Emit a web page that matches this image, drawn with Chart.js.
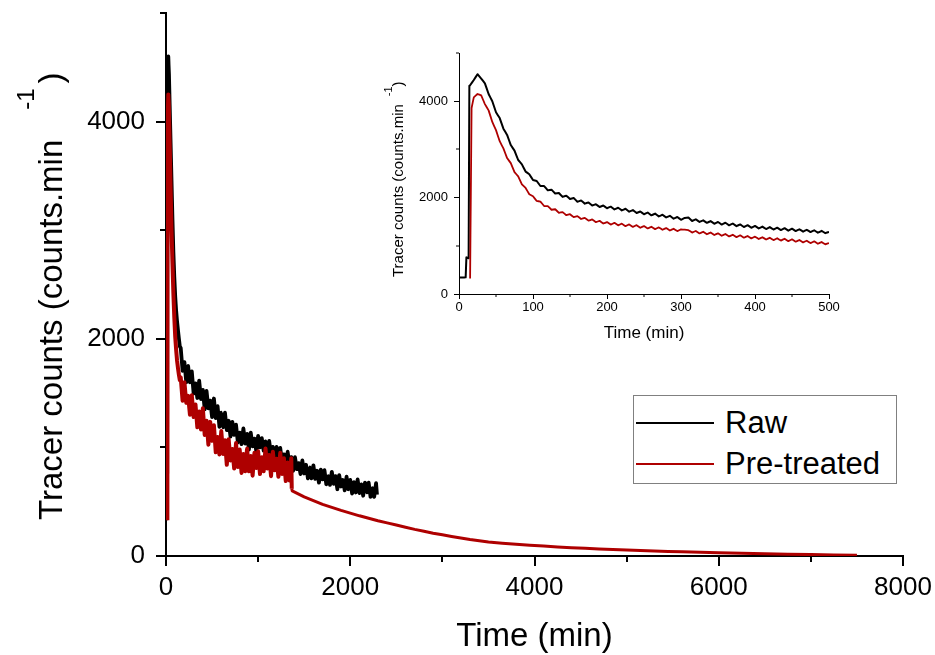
<!DOCTYPE html>
<html>
<head>
<meta charset="utf-8">
<script src="https://cdn.jsdelivr.net/npm/chart.js@4.4.1/dist/chart.umd.min.js"></script>
<style>
  html, body { margin: 0; padding: 0; background: #fff; }
  #wrap { position: relative; width: 935px; height: 655px; overflow: hidden; font-family: 'Liberation Sans', Arial, sans-serif; }
  #mainChart { position: absolute; left: 0; top: 0; }
  #insetChart { position: absolute; left: 380px; top: 40px; }
  #legend { position: absolute; left: 633px; top: 395px; width: 262px; height: 87px; border: 1px solid #808080; background: #fff; }
  .row { position: absolute; left: 0; width: 262px; height: 36px; }
  .swatch { position: absolute; left: 2px; width: 78px; height: 2px; top: 17px; }
  .label { position: absolute; left: 91px; top: 0; font-size: 31px; line-height: 36px; color: #000; white-space: nowrap; }
</style>
</head>
<body>
<div id="wrap">
  <canvas id="mainChart" width="935" height="655"></canvas>
  <canvas id="insetChart" width="470" height="305"></canvas>
  <div id="legend"></div>
</div>
<script>
// series
const seriesNames = ['Raw', 'Pre-treated'];
const seriesColors = ['#000000', '#ae0000'];

// axis text
const xTitle = 'Time (min)';
const yTitleMain = 'Tracer counts (counts.min';
const yTitleSup = '-1';
const yTitleEnd = ')';

// main chart ticks
const mainXTicks = [0, 2000, 4000, 6000, 8000];
const mainXMinor = [1000, 3000, 5000, 7000];
const mainYTicks = [0, 2000, 4000];
const mainYMinor = [1000, 3000, 5000];

// inset ticks
const insetXTicks = [0, 100, 200, 300, 400, 500];
const insetXMinor = [50, 150, 250, 350, 450];
const insetYTicks = [0, 2000, 4000];
const insetYMinor = [1000, 3000, 5000];

// main chart: Raw (min, counts/min)
const mainRawTime = [0, 8, 10, 13, 14, 18, 22, 25, 28, 32, 40, 50, 60, 70, 80, 90, 100, 110, 120, 130, 140, 150,
  160, 180, 200, 220, 240, 260, 280, 300, 320, 340, 360, 380, 400, 420, 440, 460, 480, 500, 520, 540,
  560, 580, 600, 620, 640, 660, 680, 700, 720, 740, 760, 780, 800, 820, 840, 860, 880, 900, 920, 940,
  960, 980, 1000, 1020, 1040, 1060, 1080, 1100, 1120, 1140, 1160, 1180, 1200, 1220, 1240, 1260, 1280, 1300, 1320, 1340,
  1360, 1380, 1400, 1420, 1440, 1460, 1480, 1500, 1520, 1540, 1560, 1580, 1600, 1620, 1640, 1660, 1680, 1700, 1720, 1740,
  1760, 1780, 1800, 1820, 1840, 1860, 1880, 1900, 1920, 1940, 1960, 1980, 2000, 2020, 2040, 2060, 2080, 2100, 2120, 2140,
  2160, 2180, 2200, 2220, 2240, 2260, 2280, 2290];
const mainRawCounts = [340, 345, 760, 760, 4300, 4400, 4560, 4600, 4520, 4440, 4150, 3800, 3450, 3100, 2800, 2570, 2390, 2260, 2160, 2080, 2000, 1930,
  1915, 1705, 1785, 1600, 1750, 1600, 1700, 1495, 1590, 1455, 1615, 1445, 1530, 1350, 1520, 1360, 1430, 1280, 1450, 1270,
  1380, 1190, 1320, 1185, 1320, 1160, 1245, 1100, 1235, 1115, 1210, 1045, 1135, 1030, 1175, 1035, 1125, 980, 1135, 1010,
  1080, 965, 1105, 1000, 1085, 970, 1055, 950, 1060, 935, 1005, 900, 1005, 920, 995, 865, 935, 855, 960, 850,
  910, 785, 910, 800, 855, 755, 880, 760, 840, 715, 815, 715, 835, 710, 785, 675, 795, 705, 790, 660,
  735, 655, 775, 665, 735, 615, 745, 640, 700, 605, 730, 615, 700, 575, 680, 585, 705, 580, 660, 555,
  675, 585, 675, 545, 625, 545, 670, 565];

// main chart: Pre-treated
const mainPreTime = [15, 16, 17, 20, 25, 30, 40, 50, 60, 70, 80, 90, 100, 110, 120, 130, 140, 150,
  160, 180, 200, 220, 240, 260, 280, 300, 320, 340, 360, 380, 400, 420, 440, 460, 480, 500, 520, 540,
  560, 580, 600, 620, 640, 660, 680, 700, 720, 740, 760, 780, 800, 820, 840, 860, 880, 900, 920, 940,
  960, 980, 1000, 1020, 1040, 1060, 1080, 1100, 1120, 1140, 1160, 1180, 1200, 1220, 1240, 1260, 1280, 1300, 1320, 1340,
  1360, 1365, 1370, 1500, 1700, 1900, 2100, 2300, 2500, 2700, 2900, 3100, 3300, 3500, 3800, 4100, 4400, 4700,
  5000, 5300, 5600, 6000, 6500, 7000, 7500];
const mainPreCounts = [330, 2200, 3860, 4080, 4250, 4170, 3800, 3380, 3000, 2700, 2420, 2200, 2020, 1900, 1800, 1730, 1670, 1620,
  1645, 1430, 1600, 1410, 1475, 1300, 1480, 1280, 1395, 1185, 1330, 1165, 1360, 1115, 1245, 1025, 1235, 1060, 1205, 955,
  1095, 935, 1150, 940, 1065, 840, 1075, 880, 985, 805, 1040, 820, 980, 765, 940, 780, 990, 780, 920, 740,
  950, 810, 965, 755, 910, 780, 990, 805, 930, 735, 960, 790, 895, 730, 950, 755, 900, 690, 860, 695,
  900, 620, 600, 545, 475, 420, 370, 325, 285, 245, 210, 180, 152, 128, 108, 91, 77, 65,
  55, 46, 38, 30, 21, 13, 7];
// end of the noisy part of the pre-treated record (min)
const preNoisyEnd = 1365;

// inset: first 500 min
const insetRawTime = [0, 5, 9, 10, 13, 14, 15,
  20, 25, 30, 35, 40, 45, 50, 55, 60, 65, 70, 75, 80, 85, 90, 95, 100, 105, 110, 115,
  120, 125, 130, 135, 140, 145, 150, 155, 160, 165, 170, 175, 180, 185, 190, 195, 200, 205, 210, 215,
  220, 225, 230, 235, 240, 245, 250, 255, 260, 265, 270, 275, 280, 285, 290, 295, 300, 305, 310, 315,
  320, 325, 330, 335, 340, 345, 350, 355, 360, 365, 370, 375, 380, 385, 390, 395, 400, 405, 410, 415,
  420, 425, 430, 435, 440, 445, 450, 455, 460, 465, 470, 475, 480, 485, 490, 495, 500];
const insetRawCounts = [343, 340, 345, 760, 740, 4320, 4330,
  4440, 4560, 4470, 4370, 4150, 4000, 3770, 3650, 3430, 3300, 3090, 2975, 2780, 2690, 2540, 2485, 2365, 2345, 2240, 2240,
  2150, 2165, 2085, 2095, 2015, 2040, 1970, 1990, 1915, 1940, 1875, 1900, 1835, 1862, 1805, 1835, 1780, 1812, 1755, 1790,
  1735, 1768, 1708, 1740, 1680, 1712, 1655, 1690, 1632, 1668, 1610, 1645, 1588, 1622, 1562, 1598, 1540, 1578, 1585, 1515,
  1550, 1495, 1528, 1476, 1512, 1458, 1494, 1440, 1478, 1425, 1462, 1408, 1444, 1390, 1428, 1375, 1412, 1360, 1398, 1348,
  1388, 1338, 1376, 1326, 1365, 1315, 1355, 1305, 1342, 1294, 1332, 1284, 1322, 1272, 1310, 1262, 1290];
const insetPreTime = [15, 16, 17,
  20, 25, 30, 35, 40, 45, 50, 55, 60, 65, 70, 75, 80, 85, 90, 95, 100, 105, 110, 115,
  120, 125, 130, 135, 140, 145, 150, 155, 160, 165, 170, 175, 180, 185, 190, 195, 200, 205, 210, 215,
  220, 225, 230, 235, 240, 245, 250, 255, 260, 265, 270, 275, 280, 285, 290, 295, 300, 305, 310, 315,
  320, 325, 330, 335, 340, 345, 350, 355, 360, 365, 370, 375, 380, 385, 390, 395, 400, 405, 410, 415,
  420, 425, 430, 435, 440, 445, 450, 455, 460, 465, 470, 475, 480, 485, 490, 495, 500];
const insetPreCounts = [323, 2100, 3860,
  4080, 4150, 4120, 3940, 3810, 3570, 3400, 3170, 3020, 2820, 2715, 2530, 2440, 2275, 2200, 2070, 2028, 1930, 1918, 1825,
  1822, 1748, 1758, 1685, 1698, 1635, 1656, 1594, 1615, 1556, 1580, 1522, 1546, 1490, 1518, 1462, 1492, 1440, 1476, 1424,
  1460, 1408, 1444, 1392, 1428, 1375, 1410, 1360, 1396, 1346, 1382, 1332, 1368, 1318, 1354, 1305, 1340, 1335, 1325, 1274,
  1308, 1256, 1292, 1240, 1276, 1224, 1258, 1208, 1245, 1195, 1230, 1180, 1218, 1168, 1204, 1154, 1190, 1140, 1178, 1130,
  1168, 1118, 1156, 1108, 1146, 1096, 1135, 1085, 1120, 1070, 1106, 1056, 1092, 1042, 1080, 1030, 1058];

const fontFamily = "'Liberation Sans', Arial, sans-serif";
Chart.defaults.font.family = fontFamily;
Chart.defaults.color = '#000';

function toPoints(times, counts) {
  return times.map((t, i) => ({ x: t, y: counts[i] }));
}

// short outward ticks between the labelled ones
const minorTickPlugin = {
  id: 'minorTicks',
  afterDraw(chart, args, opts) {
    const { ctx, chartArea, scales } = chart;
    ctx.save();
    ctx.strokeStyle = '#000';
    ctx.lineWidth = opts.width;
    ctx.beginPath();
    opts.x.forEach(v => {
      const px = Math.round(scales.x.getPixelForValue(v));
      ctx.moveTo(px, chartArea.bottom);
      ctx.lineTo(px, chartArea.bottom + opts.length);
    });
    opts.y.forEach(v => {
      const py = Math.round(scales.y.getPixelForValue(v));
      ctx.moveTo(chartArea.left, py);
      ctx.lineTo(chartArea.left - opts.length, py);
    });
    ctx.stroke();
    ctx.restore();
  }
};

// rotated y title with a raised exponent
const yTitlePlugin = {
  id: 'yTitle',
  afterDraw(chart, args, opts) {
    const ctx = chart.ctx;
    ctx.save();
    ctx.translate(opts.x, opts.y);
    ctx.rotate(-Math.PI / 2);
    ctx.fillStyle = '#000';
    ctx.textBaseline = 'alphabetic';
    ctx.textAlign = 'left';
    ctx.font = opts.size + 'px ' + fontFamily;
    ctx.fillText(yTitleMain, 0, 0);
    let w = ctx.measureText(yTitleMain).width + opts.gap;
    ctx.font = opts.supSize + 'px ' + fontFamily;
    ctx.fillText(yTitleSup, w, -opts.rise);
    w += ctx.measureText(yTitleSup).width + opts.gap2;
    ctx.font = opts.size + 'px ' + fontFamily;
    ctx.fillText(yTitleEnd, w, 0);
    ctx.restore();
  }
};

function axisOptions(cfg) {
  return {
    type: 'linear',
    min: cfg.min,
    max: cfg.max,
    afterBuildTicks: scale => { scale.ticks = cfg.ticks.map(v => ({ value: v })); },
    afterFit: scale => {
      if (cfg.width) scale.width = cfg.width;
      if (cfg.height) scale.height = cfg.height;
      scale.paddingTop = 0;
      scale.paddingBottom = 0;
      scale.paddingLeft = 0;
      scale.paddingRight = 0;
    },
    border: { display: true, color: '#000', width: cfg.line },
    grid: { drawOnChartArea: false, drawTicks: true, tickLength: cfg.tick, color: '#000', lineWidth: cfg.line },
    ticks: {
      font: { size: cfg.font },
      color: '#000',
      padding: cfg.pad,
      maxRotation: 0,
      autoSkip: false,
      callback: v => String(v)
    },
    title: cfg.title ? {
      display: true,
      text: cfg.title,
      font: { size: cfg.titleSize, lineHeight: 1 },
      padding: { top: 0, bottom: cfg.titlePad },
      color: '#000'
    } : { display: false }
  };
}

function lineDataset(label, color, times, counts, width, order) {
  return {
    label: label,
    data: toPoints(times, counts),
    borderColor: color,
    backgroundColor: color,
    borderWidth: width,
    borderJoinStyle: 'round',
    pointRadius: 0,
    tension: 0.001,
    fill: false,
    order: order
  };
}

const mainPre = lineDataset(seriesNames[1], seriesColors[1], mainPreTime, mainPreCounts, 3, 0);
// noisy stretch drawn a little heavier than the smooth tail
mainPre.segment = { borderWidth: ctx => (ctx.p1.parsed.x <= preNoisyEnd ? 4 : 3) };

new Chart(document.getElementById('mainChart'), {
  type: 'line',
  data: {
    datasets: [
      lineDataset(seriesNames[0], seriesColors[0], mainRawTime, mainRawCounts, 3.8, 1),
      mainPre
    ]
  },
  options: {
    responsive: false,
    animation: false,
    devicePixelRatio: 1,
    layout: { padding: { left: 0, top: 13, right: 32, bottom: 0 } },
    plugins: {
      legend: { display: false },
      tooltip: { enabled: false },
      minorTicks: { x: mainXMinor, y: mainYMinor, length: 6, width: 2 },
      yTitle: { x: 62, y: 520, size: 33, supSize: 24, rise: 28, gap: 30, gap2: 5 }
    },
    scales: {
      x: axisOptions({ min: 0, max: 8000, ticks: mainXTicks, height: 99, line: 2, tick: 10, font: 26, pad: 6,
        title: xTitle, titleSize: 33, titlePad: 2 }),
      y: axisOptions({ min: 0, max: 5000, ticks: mainYTicks, width: 166, line: 2, tick: 10, font: 26, pad: 11 })
    }
  },
  plugins: [minorTickPlugin, yTitlePlugin]
});

new Chart(document.getElementById('insetChart'), {
  type: 'line',
  data: {
    datasets: [
      lineDataset(seriesNames[0], seriesColors[0], insetRawTime, insetRawCounts, 2, 1),
      lineDataset(seriesNames[1], seriesColors[1], insetPreTime, insetPreCounts, 1.8, 0)
    ]
  },
  options: {
    responsive: false,
    animation: false,
    devicePixelRatio: 1,
    layout: { padding: { left: 0, top: 13, right: 21, bottom: 0 } },
    plugins: {
      legend: { display: false },
      tooltip: { enabled: false },
      minorTicks: { x: insetXMinor, y: insetYMinor, length: 3, width: 1 },
      yTitle: { x: 23, y: 237, size: 15, supSize: 11, rise: 11, gap: 8, gap2: 0 }
    },
    scales: {
      x: axisOptions({ min: 0, max: 500, ticks: insetXTicks, height: 51, line: 1, tick: 5, font: 13, pad: 1,
        title: xTitle, titleSize: 17, titlePad: 3.5 }),
      y: axisOptions({ min: 0, max: 5000, ticks: insetYTicks, width: 79, line: 1, tick: 5, font: 13, pad: 6 })
    }
  },
  plugins: [minorTickPlugin, yTitlePlugin]
});

// legend box
const legendEl = document.getElementById('legend');
seriesNames.forEach((name, i) => {
  const row = document.createElement('div');
  row.className = 'row';
  row.style.top = (9 + i * 41) + 'px';
  const sw = document.createElement('span');
  sw.className = 'swatch';
  sw.style.background = seriesColors[i];
  const lb = document.createElement('span');
  lb.className = 'label';
  lb.textContent = name;
  row.appendChild(sw);
  row.appendChild(lb);
  legendEl.appendChild(row);
});
</script>
</body>
</html>
